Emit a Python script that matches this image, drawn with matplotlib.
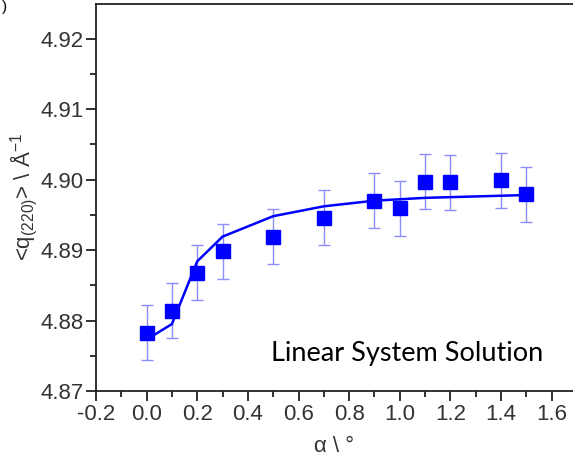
import matplotlib.pyplot as plt
from matplotlib.ticker import MultipleLocator, FormatStrFormatter

# measured points
alpha = [0.0, 0.1, 0.2, 0.3, 0.5, 0.7, 0.9, 1.0, 1.1, 1.2, 1.4, 1.5]
q_meas = [4.8783, 4.8814, 4.8868, 4.8898, 4.8919, 4.8946,
          4.8970, 4.8959, 4.8997, 4.8996, 4.8999, 4.8979]
q_err = [0.0039, 0.0039, 0.0039, 0.0039, 0.0039, 0.0039,
         0.0039, 0.0039, 0.0039, 0.0039, 0.0039, 0.0039]

# linear system solution curve
alpha_fit = [0.0, 0.1, 0.2, 0.3, 0.5, 0.7, 0.9, 1.0, 1.1, 1.2, 1.4, 1.5]
q_fit = [4.8773, 4.8795, 4.8884, 4.8919, 4.8948, 4.8962,
         4.8970, 4.8972, 4.8974, 4.8975, 4.8977, 4.8978]

plt.rcParams["font.family"] = ["Liberation Sans", "DejaVu Sans"]
plt.rcParams["mathtext.fontset"] = "custom"
plt.rcParams["mathtext.rm"] = "Liberation Sans"
plt.rcParams["mathtext.it"] = "Liberation Sans"

fig = plt.figure(figsize=(5.73, 4.68), dpi=100)
ax = fig.add_axes([0.1675, 0.1645, 0.8325, 0.827])

ax.errorbar(alpha, q_meas, yerr=q_err, fmt="none", ecolor="#8c8cff",
            elinewidth=1.0, capsize=4, capthick=1.0, zorder=2)
ax.plot(alpha_fit, q_fit, color="#0000ff", lw=1.8, zorder=3)
ax.plot(alpha, q_meas, "s", color="#0000ff", ms=9.5, mec="#0000ff", zorder=4)

ax.set_xlim(-0.2, 1.684)
ax.set_ylim(4.87, 4.9249)
ax.xaxis.set_major_locator(MultipleLocator(0.2))
ax.xaxis.set_minor_locator(MultipleLocator(0.1))
ax.yaxis.set_major_locator(MultipleLocator(0.01))
ax.yaxis.set_minor_locator(MultipleLocator(0.005))
ax.xaxis.set_major_formatter(FormatStrFormatter("%.1f"))
ax.yaxis.set_major_formatter(FormatStrFormatter("%.2f"))
ax.tick_params(which="both", direction="out", labelsize=16, width=1.3,
               color="#222222", labelcolor="#333333")
ax.tick_params(which="major", length=7)
ax.tick_params(which="minor", length=4)
ax.tick_params(axis="x", pad=2)
ax.tick_params(axis="y", pad=2)
for side in ("left", "bottom", "top"):
    ax.spines[side].set_linewidth(1.3)
    ax.spines[side].set_color("#222222")
ax.spines["right"].set_visible(False)

ax.set_xlabel(r"α \ °", fontsize=16, color="#333333", labelpad=8)
ax.set_ylabel(r"<q$_{\mathrm{(220)}}$> \ Å$^{\mathrm{-1}}$", fontsize=16,
              color="#333333", labelpad=1)

ax.text(0.937, 0.096, "Linear System Solution", transform=ax.transAxes,
        ha="right", va="center", fontsize=19.5, family=["Lato", "DejaVu Sans"],
        color="black")

fig.text(0.003, 0.999, ")", fontsize=11, ha="left", va="top")

fig.savefig("out.png", dpi=100)
